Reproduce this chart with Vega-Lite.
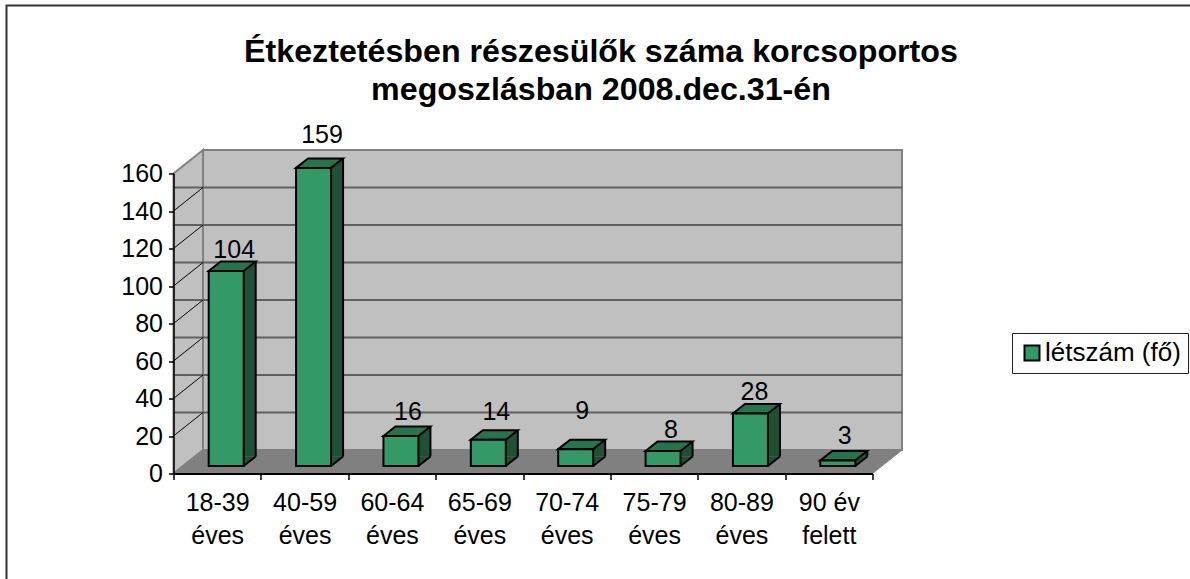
{"$schema":"https://vega.github.io/schema/vega-lite/v6.json","width":699,"height":300,"autosize":{"type":"none"},"padding":{"left":173.5,"top":173.5,"right":317.5,"bottom":105.5},"background":"#ffffff",
"config":{"font":"Liberation Sans","view":{"stroke":null},"axisY":{"labelOverlap":false,"tickCount":9,"values":[0,20,40,60,80,100,120,140,160]},"text":{"fontSize":25,"color":"#000000","align":"center","baseline":"alphabetic"}},
"title":{"text":["Étkeztetésben részesülők száma korcsoportos","megoszlásban 2008.dec.31-én"],"font":"Liberation Sans","fontSize":32.2,"fontWeight":"bold","color":"#000000","anchor":"middle","frame":"group","dx":78,"lineHeight":38,"offset":-106},
"datasets":{"main":[{"korcsoport":"18-39 éves","letszam":104},{"korcsoport":"40-59 éves","letszam":159},{"korcsoport":"60-64 éves","letszam":16},{"korcsoport":"65-69 éves","letszam":14},{"korcsoport":"70-74 éves","letszam":9},{"korcsoport":"75-79 éves","letszam":8},{"korcsoport":"80-89 éves","letszam":28},{"korcsoport":"90 év felett","letszam":3}],
"ticks":[{"tick":0},{"tick":20},{"tick":40},{"tick":60},{"tick":80},{"tick":100},{"tick":120},{"tick":140},{"tick":160}],
"origin":[{"korcsoport":"18-39 éves","tick":0}]},
"data":{"name":"main"},
"resolve":{"scale":{"x":"shared","y":"shared"}},
"layer":[
{"data":{"name":"origin"},"mark":{"type":"point","filled":false,"size":4,"shape":"M-167,105.5V-468H1016.5","stroke":"#333333","strokeWidth":2,"opacity":1},"encoding":{"x":{"field":"korcsoport","type":"nominal","bandPosition":0,"scale":{"type":"band","domain":["18-39 éves","40-59 éves","60-64 éves","65-69 éves","70-74 éves","75-79 éves","80-89 éves","90 év felett"],"paddingInner":0,"paddingOuter":0},"title":null,"axis":{"zindex":1,"domainColor":"#000000","domainWidth":2,"tickColor":"#000000","tickWidth":1.5,"tickSize":6,"tickBand":"extent","labelAngle":0,"labelColor":"#000000","labelFontSize":25,"labelFont":"Liberation Sans","labelPadding":11,"labelLineHeight":33,"labelBaseline":"top","labelExpr":"datum.label=='90 év felett'?['90 év','felett']:split(datum.label,' ')"}},"y":{"field":"tick","type":"quantitative","scale":{"domain":[0,160],"nice":false,"zero":true},"title":null,"axis":{"zindex":1,"values":[0,20,40,60,80,100,120,140,160],"labelOverlap":false,"grid":false,"domainColor":"#000000","domainWidth":1.5,"tickColor":"#000000","tickWidth":1.5,"tickSize":5,"labelColor":"#000000","labelFontSize":25,"labelFont":"Liberation Sans","labelPadding":6}}}},
{"data":{"name":"origin"},"mark":{"type":"point","filled":true,"size":4,"shape":"M0,0L29.5,-23.5V-323.5L0,-300Z","fill":"#C0C0C0","stroke":"#808080","strokeWidth":2,"opacity":1},"encoding":{"x":{"field":"korcsoport","type":"nominal","bandPosition":0},"y":{"field":"tick","type":"quantitative"}}},
{"data":{"name":"origin"},"mark":{"type":"point","filled":true,"size":4,"shape":"M29.5,-23.5H728.5V-323.5H29.5Z","fill":"#C0C0C0","stroke":"#808080","strokeWidth":2,"opacity":1},"encoding":{"x":{"field":"korcsoport","type":"nominal","bandPosition":0},"y":{"field":"tick","type":"quantitative"}}},
{"data":{"name":"origin"},"mark":{"type":"point","filled":true,"size":4,"shape":"M0,0L29.5,-23.5H728.5L699,0Z","fill":"#808080","stroke":"#808080","strokeWidth":1,"opacity":1},"encoding":{"x":{"field":"korcsoport","type":"nominal","bandPosition":0},"y":{"field":"tick","type":"quantitative"}}},
{"data":{"name":"ticks"},"transform":[{"filter":"datum.tick>0 && datum.tick<160"}],"mark":{"type":"rule","stroke":"#606060","strokeWidth":2,"xOffset":29.5,"x2Offset":29.5,"yOffset":-23.5},"encoding":{"y":{"field":"tick","type":"quantitative"}}},
{"data":{"name":"ticks"},"transform":[{"filter":"datum.tick>0 && datum.tick<160"}],"mark":{"type":"point","filled":false,"size":4,"shape":"M0,0L29.5,-23.5","stroke":"#000000","strokeWidth":1,"opacity":1},"encoding":{"x":{"datum":"18-39 éves","bandPosition":0},"y":{"field":"tick","type":"quantitative"}}},
{"mark":{"type":"bar","size":35,"fill":"#1F4F35","stroke":null,"xOffset":21,"yOffset":-17,"y2Offset":-17},"encoding":{"x":{"field":"korcsoport","type":"nominal"},"y":{"field":"letszam","type":"quantitative"},"y2":{"datum":0}}},
{"mark":{"type":"point","filled":true,"size":4,"shape":"M26.5,-7.5L38.5,-17H26.5Z","fill":"#1F4F35","stroke":null,"opacity":1},"encoding":{"x":{"field":"korcsoport","type":"nominal"},"y":{"datum":0}}},
{"mark":{"type":"point","filled":false,"size":4,"shape":"M26.5,-7.5L38.5,-17","stroke":"#000000","strokeWidth":2,"opacity":1},"encoding":{"x":{"field":"korcsoport","type":"nominal"},"y":{"datum":0}}},
{"mark":{"type":"rule","stroke":"#000000","strokeWidth":2,"xOffset":38.5,"yOffset":-17,"y2Offset":-17},"encoding":{"x":{"field":"korcsoport","type":"nominal"},"y":{"field":"letszam","type":"quantitative"},"y2":{"datum":0}}},
{"mark":{"type":"point","filled":true,"size":4,"shape":"M-8.5,-7.5L3.5,-17H38.5L26.5,-7.5Z","fill":"#26734D","stroke":"#000000","strokeWidth":2,"opacity":1},"encoding":{"x":{"field":"korcsoport","type":"nominal"},"y":{"field":"letszam","type":"quantitative"}}},
{"mark":{"type":"bar","size":35,"stroke":"#000000","strokeWidth":2,"xOffset":9,"yOffset":-7.5,"y2Offset":-7.5},"encoding":{"x":{"field":"korcsoport","type":"nominal"},"y":{"field":"letszam","type":"quantitative"},"y2":{"datum":0},"color":{"datum":"létszám (fő)","scale":{"range":["#339966"]},"legend":{"title":null,"orient":"none","legendX":838.5,"legendY":159.5,"symbolType":"square","symbolSize":225,"symbolStrokeWidth":2,"symbolStrokeColor":"#000000","labelFontSize":26,"labelFont":"Liberation Sans","labelColor":"#000000","strokeColor":"#222222","fillColor":"#ffffff","padding":7,"labelOffset":0,"labelLimit":300}}}},
{"transform":[{"filter":"datum.letszam==104||datum.letszam==8"}],"mark":{"type":"text","dx":17,"dy":-21},"encoding":{"x":{"field":"korcsoport","type":"nominal"},"y":{"field":"letszam","type":"quantitative"},"text":{"field":"letszam","type":"quantitative"}}},
{"transform":[{"filter":"datum.letszam==28"}],"mark":{"type":"text","dx":13,"dy":-21},"encoding":{"x":{"field":"korcsoport","type":"nominal"},"y":{"field":"letszam","type":"quantitative"},"text":{"field":"letszam","type":"quantitative"}}},
{"transform":[{"filter":"datum.letszam==16||datum.letszam==3"}],"mark":{"type":"text","dx":16,"dy":-24},"encoding":{"x":{"field":"korcsoport","type":"nominal"},"y":{"field":"letszam","type":"quantitative"},"text":{"field":"letszam","type":"quantitative"}}},
{"transform":[{"filter":"datum.letszam==14"}],"mark":{"type":"text","dx":17,"dy":-27},"encoding":{"x":{"field":"korcsoport","type":"nominal"},"y":{"field":"letszam","type":"quantitative"},"text":{"field":"letszam","type":"quantitative"}}},
{"transform":[{"filter":"datum.letszam==9"}],"mark":{"type":"text","dx":15.5,"dy":-38},"encoding":{"x":{"field":"korcsoport","type":"nominal"},"y":{"field":"letszam","type":"quantitative"},"text":{"field":"letszam","type":"quantitative"}}},
{"transform":[{"filter":"datum.letszam==159"}],"mark":{"type":"text","dx":17.5,"dy":-32},"encoding":{"x":{"field":"korcsoport","type":"nominal"},"y":{"field":"letszam","type":"quantitative"},"text":{"field":"letszam","type":"quantitative"}}}
]}
